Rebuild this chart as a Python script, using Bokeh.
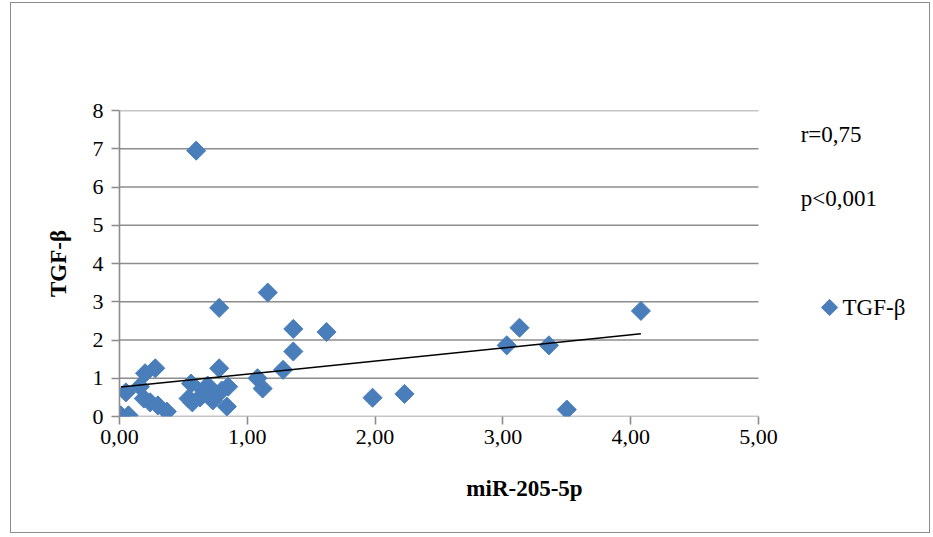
import math
from bokeh.plotting import figure
from bokeh.models import Range1d, FixedTicker, ColumnDataSource
from bokeh.core.properties import value
from bokeh.embed import file_html
from bokeh.resources import INLINE

# ---- data ----
mir205 = [0.05, 0.16, 0.20, 0.28, 0.19, 0.24, 0.30, 0.37, 0.01, 0.07,
          0.54, 0.56, 0.57, 0.66, 0.69, 0.63, 0.73, 0.80, 0.85, 0.84, 0.78,
          0.60, 0.78, 1.16, 1.36, 1.62, 1.36, 1.28, 1.08, 1.12,
          1.98, 2.23, 3.03, 3.13, 3.36, 3.50, 4.08]
tgfb = [0.63, 0.78, 1.13, 1.26, 0.47, 0.37, 0.29, 0.13, 0.03, 0.03,
        0.47, 0.86, 0.37, 0.68, 0.81, 0.50, 0.42, 0.68, 0.78, 0.26, 1.26,
        6.95, 2.84, 3.24, 2.29, 2.21, 1.70, 1.22, 1.00, 0.73,
        0.49, 0.59, 1.86, 2.32, 1.86, 0.18, 2.76]
trend_intercept = 0.766
trend_slope = 0.342
x_ticks = [0, 1, 2, 3, 4, 5]
x_tick_labels = ["0,00", "1,00", "2,00", "3,00", "4,00", "5,00"]
y_ticks = [0, 1, 2, 3, 4, 5, 6, 7, 8]
stat_texts = ["r=0,75", "p<0,001"]
stat_x = [5.33, 5.33]
stat_y = [7.36, 5.71]
series_name = "TGF-β"
legend_x = 5.556
legend_y = 2.85
x_title = "miR-205-5p"
y_title = "TGF-β"

BLUE = "#4a7ebb"
GRID = "#8c8c8c"
FONT = "Liberation Serif"

W, H = 920, 531
LEFT, RIGHT, TOP, BOTTOM = 108, 2, 107, 118
frame_w = W - LEFT - RIGHT
axis_w = 639.0  # pixel width of the 0..5 axis span
x_max = x_ticks[-1] * frame_w / axis_w

p = figure(width=W, height=H, output_backend="svg", toolbar_location=None,
           x_range=Range1d(0, x_max), y_range=Range1d(0, 8),
           min_border_left=LEFT, min_border_right=RIGHT,
           min_border_top=TOP, min_border_bottom=BOTTOM)
p.styles = {"border": "1px solid #8c8c8c", "margin-left": "10px", "margin-top": "2px"}
p.outline_line_color = None
p.background_fill_color = "white"
p.border_fill_color = "white"

p.xgrid.grid_line_color = None
p.ygrid.grid_line_color = None

# horizontal gridlines limited to the 0..5 span
p.segment(x0=[x_ticks[0]] * len(y_ticks), y0=y_ticks,
          x1=[x_ticks[-1]] * len(y_ticks), y1=y_ticks,
          line_color=GRID, line_width=1.6)

p.xaxis.ticker = FixedTicker(ticks=x_ticks)
p.xaxis.major_label_overrides = {t: s for t, s in zip(x_ticks, x_tick_labels)}
p.yaxis.ticker = FixedTicker(ticks=y_ticks)

for ax in (p.xaxis[0], p.yaxis[0]):
    ax.axis_line_color = GRID
    ax.axis_line_width = 1.6
    ax.major_tick_line_color = GRID
    ax.major_tick_line_width = 1.6
    ax.major_tick_out = 8
    ax.major_tick_in = 0
    ax.minor_tick_line_color = None
    ax.major_label_text_font = FONT
    ax.major_label_text_font_size = "22px"
    ax.major_label_text_color = "black"
    ax.axis_label_text_font = FONT
    ax.axis_label_text_font_size = "23px"
    ax.axis_label_text_font_style = "bold"
    ax.axis_label_text_color = "black"

p.xaxis.axis_line_color = None
p.xaxis.axis_label = x_title
p.xaxis.major_label_standoff = 5
p.xaxis.axis_label_standoff = 29
p.yaxis.axis_label = y_title
p.yaxis.major_label_standoff = 8
p.yaxis.axis_label_standoff = 19

src = ColumnDataSource(dict(x=mir205, y=tgfb))
p.scatter("x", "y", source=src, marker="square", size=13.5, angle=math.pi / 4,
          fill_color=BLUE, line_color=BLUE)

x0, x1 = min(mir205), max(mir205)
p.line([x0, x1], [trend_intercept + trend_slope * x0, trend_intercept + trend_slope * x1],
       line_color="black", line_width=1.6)

p.text(x=stat_x, y=stat_y, text=stat_texts, text_font=value(FONT),
       text_font_size="23px", text_baseline="middle", text_color="black")

# legend (drawn in the area right of the axis span)
p.scatter(x=[legend_x], y=[legend_y], marker="square", size=11.5, angle=math.pi / 4,
          fill_color=BLUE, line_color=BLUE)
p.text(x=[legend_x], y=[legend_y], text=[series_name], x_offset=13,
       text_font=value(FONT), text_font_size="23px", text_baseline="middle",
       text_color="black")

open("out.html", "w").write(file_html(p, INLINE))
